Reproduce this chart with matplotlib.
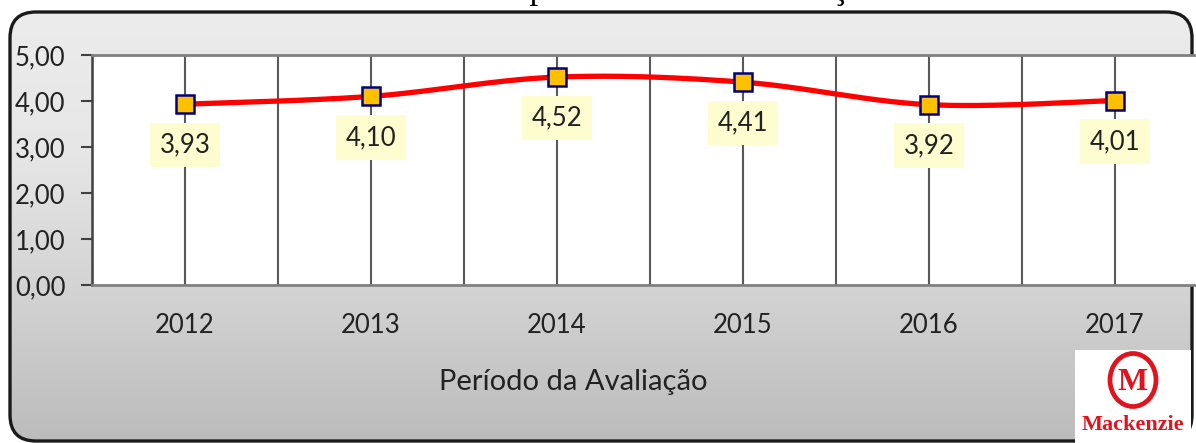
import numpy as np
import matplotlib
matplotlib.use("Agg")
import matplotlib.pyplot as plt
from matplotlib.patches import FancyBboxPatch, Ellipse, Rectangle

# ---------------- data ----------------
years = ["2012", "2013", "2014", "2015", "2016", "2017"]
values = [3.93, 4.10, 4.52, 4.41, 3.92, 4.01]
value_labels = ["3,93", "4,10", "4,52", "4,41", "3,92", "4,01"]
yticks = [0, 1, 2, 3, 4, 5]
ytick_labels = ["0,00", "1,00", "2,00", "3,00", "4,00", "5,00"]
xlabel = "Período da Avaliação"
title = "Média por Período da Avaliação"

W, H = 1196, 443
fig = plt.figure(figsize=(W / 100, H / 100), dpi=100)
fig.patch.set_facecolor("white")

FONT = "Lato"
TXT = "#222222"

# ---------------- background rounded box with gradient ----------------
bg = fig.add_axes([0, 0, 1, 1], zorder=0)
bg.set_xlim(0, W)
bg.set_ylim(H, 0)
bg.axis("off")
box = FancyBboxPatch((10, 12), 1182, 429,
                     boxstyle="round,pad=0,rounding_size=26",
                     facecolor="none", edgecolor="#1a1a1a", linewidth=2.4, zorder=3)
bg.add_patch(box)
grad = np.linspace(0, 1, 256).reshape(-1, 1)
cmap = matplotlib.colors.LinearSegmentedColormap.from_list(
    "g", ["#ececec", "#e6e6e6", "#d2d2d2", "#bcbcbc"])
im = bg.imshow(grad, extent=[10, 1192, 441, 12], cmap=cmap, aspect="auto", zorder=1,
               interpolation="bilinear")
clip = FancyBboxPatch((10, 12), 1182, 429, boxstyle="round,pad=0,rounding_size=26",
                      transform=bg.transData, facecolor="none", edgecolor="none")
bg.add_patch(clip)
im.set_clip_path(clip)

# title (cut off by the top of the image, as in the reference)
fig.text(432 / W, 1 + 2.0 / H, title, family="Liberation Serif", fontsize=25,
         ha="left", va="baseline", color="black")

# ---------------- main axes ----------------
left, right, top, bottom = 92, 1208, 55, 285
ax = fig.add_axes([left / W, 1 - bottom / H, (right - left) / W, (bottom - top) / H], zorder=2)
ax.set_facecolor("white")
n = len(years)
x = np.arange(n)
ax.set_xlim(-0.5, n - 0.5)
ax.set_ylim(0, 5)

# vertical gridlines at categories and boundaries
for xv in np.arange(-0.5, n, 0.5):
    ax.axvline(xv, color="#595959", lw=1.5, zorder=1)

# smooth line (Catmull-Rom through the data points)
pts = np.column_stack([x, values]).astype(float)
ext = np.vstack([pts[0], pts, pts[-1]])
curve = []
for i in range(1, len(ext) - 2):
    p0, p1, p2, p3 = ext[i - 1], ext[i], ext[i + 1], ext[i + 2]
    t = np.linspace(0, 1, 60)[:, None]
    seg = 0.5 * ((2 * p1) + (-p0 + p2) * t + (2 * p0 - 5 * p1 + 4 * p2 - p3) * t ** 2
                 + (-p0 + 3 * p1 - 3 * p2 + p3) * t ** 3)
    curve.append(seg)
curve = np.vstack(curve)
ax.plot(curve[:, 0], curve[:, 1], color="#ff0000", lw=3.8, solid_capstyle="round", zorder=3)
ax.plot(x, values, linestyle="none", marker="s", markersize=13.5,
        markerfacecolor="#ffc000", markeredgecolor="#000080", markeredgewidth=1.8, zorder=4)

for xi, v, lab in zip(x, values, value_labels):
    ax.annotate(lab, (xi, v), xytext=(0, -41), textcoords="offset pixels",
                ha="center", va="center", fontsize=18.5, family=FONT, color=TXT,
                bbox=dict(boxstyle="square,pad=0.38", facecolor="#fdfdd0", edgecolor="none"),
                zorder=5)

ax.set_yticks(yticks)
ax.set_yticklabels(ytick_labels, family=FONT, fontsize=18.5, color=TXT)
ax.set_xticks(x)
ax.set_xticklabels(years, family=FONT, fontsize=18.5, color=TXT)
ax.tick_params(axis="y", direction="out", length=8, width=1.5, color="#404040", pad=11)
ax.tick_params(axis="x", length=0, pad=20)
ax.set_xlabel(xlabel, family=FONT, fontsize=21, color=TXT)
ax.xaxis.set_label_coords((573 - left) / (right - left), -(382 - bottom) / (bottom - top))
ax.xaxis.label.set_va("center")

ax.spines["left"].set_color("#404040")
ax.spines["left"].set_linewidth(1.8)
ax.spines["top"].set_color("#808080")
ax.spines["top"].set_linewidth(2)
ax.spines["bottom"].set_color("#808080")
ax.spines["bottom"].set_linewidth(2)
ax.spines["right"].set_visible(False)

# ---------------- logo ----------------
lg = fig.add_axes([0, 0, 1, 1], zorder=6)
lg.set_xlim(0, W)
lg.set_ylim(H, 0)
lg.axis("off")
lg.add_patch(Rectangle((1075, 350), 116, 93, facecolor="white", edgecolor="none"))
red = "#e0141e"
lg.add_patch(Ellipse((1133, 380), 46, 53, facecolor="none", edgecolor=red, linewidth=3.4))
lg.text(1133, 382, "M", family="Liberation Serif", fontweight="bold", fontsize=23,
        color=red, ha="center", va="center")
lg.text(1133, 425, "Mackenzie", family="Liberation Serif", fontweight="bold", fontsize=16,
        color=red, ha="center", va="center")

fig.savefig("out.png", dpi=100)
